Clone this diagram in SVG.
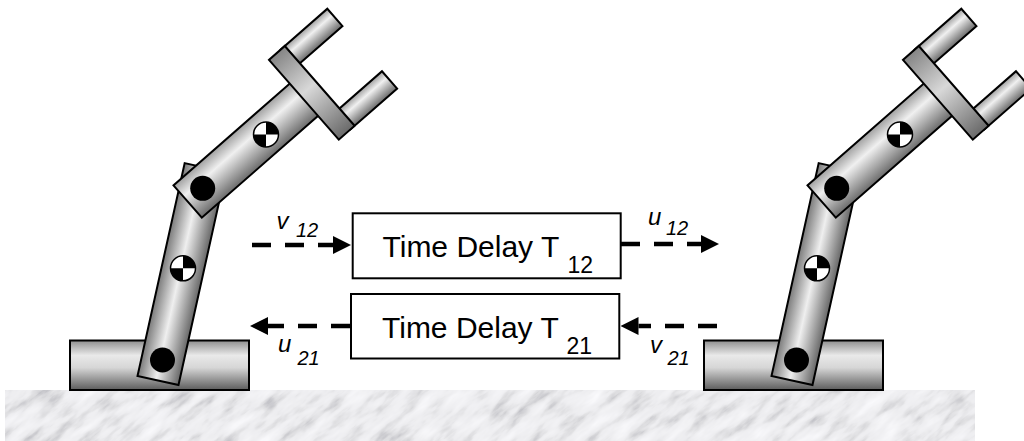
<svg xmlns="http://www.w3.org/2000/svg" xmlns:xlink="http://www.w3.org/1999/xlink" width="1024" height="441" viewBox="0 0 1024 441">
  <style>
    .part { stroke: #000; stroke-width: 2; stroke-linejoin: miter; }
    .box { fill: #fff; stroke: #000; stroke-width: 2; }
    .main { font-family: "Liberation Sans", Arial, sans-serif; font-size: 30px; fill: #000; }
    .msub { font-family: "Liberation Sans", Arial, sans-serif; font-size: 23px; fill: #000; }
    .lbl { font-family: "Liberation Sans", Arial, sans-serif; font-size: 24px; font-style: italic; fill: #000; }
    .lsub { font-family: "Liberation Sans", Arial, sans-serif; font-size: 20px; font-style: italic; fill: #000; }
    .dash { fill: none; stroke: #000; stroke-width: 4.5; stroke-dasharray: 19 14; }
  </style>
  <defs>
    <linearGradient id="gBase" x1="0" y1="0" x2="0" y2="1">
      <stop offset="0" stop-color="#8e8e8e"/>
      <stop offset="0.3" stop-color="#e9e9e9"/>
      <stop offset="0.55" stop-color="#d6d6d6"/>
      <stop offset="1" stop-color="#5c5c5c"/>
    </linearGradient>
    <linearGradient id="gLow" x1="0" y1="0" x2="1" y2="0">
      <stop offset="0" stop-color="#7a7a7a"/>
      <stop offset="0.45" stop-color="#efefef"/>
      <stop offset="1" stop-color="#666"/>
    </linearGradient>
    <linearGradient id="gUp" x1="0" y1="0" x2="0" y2="1">
      <stop offset="0" stop-color="#a0a0a0"/>
      <stop offset="0.35" stop-color="#f0f0f0"/>
      <stop offset="1" stop-color="#6c6c6c"/>
    </linearGradient>
    <linearGradient id="gBar" x1="0" y1="0" x2="0" y2="1">
      <stop offset="0" stop-color="#858585"/>
      <stop offset="0.45" stop-color="#d8d8d8"/>
      <stop offset="1" stop-color="#6a6a6a"/>
    </linearGradient>
    <filter id="marble" filterUnits="objectBoundingBox" x="0" y="0" width="1" height="1" color-interpolation-filters="sRGB">
      <feTurbulence type="fractalNoise" baseFrequency="0.028 0.09" numOctaves="4" seed="11"/>
      <feColorMatrix type="matrix" values="1 0 0 0 0  1 0 0 0 0  1 0 0 0 0  0 0 0 0 1"/>
      <feComponentTransfer>
        <feFuncR type="table" tableValues="0.99 0.97 0.95 0.93 0.87 0.77 0.8"/>
        <feFuncG type="table" tableValues="0.99 0.97 0.95 0.93 0.87 0.77 0.8"/>
        <feFuncB type="table" tableValues="1 0.98 0.96 0.94 0.88 0.79 0.82"/>
        <feFuncA type="identity"/>
      </feComponentTransfer>
    </filter>
    <clipPath id="groundClip">
      <rect x="5" y="390" width="970" height="51"/>
    </clipPath>
    <marker id="ah" markerUnits="userSpaceOnUse" markerWidth="18" markerHeight="18" refX="0" refY="9" orient="auto" viewBox="0 0 18 18">
      <path d="M0,0 L18,9 L0,18 Z" fill="#000"/>
    </marker>
    <g id="cg">
      <circle r="12.5" fill="#fff"/>
      <path d="M0,0 L0,-12.5 A12.5,12.5 0 0 1 12.5,0 Z" fill="#000"/>
      <path d="M0,0 L-12.5,0 A12.5,12.5 0 0 0 0,12.5 Z" fill="#000"/>
      <circle r="12.5" fill="none" stroke="#000" stroke-width="1.5"/>
    </g>
    <circle id="dot" r="12.5" fill="#000"/>
    <g id="robot">
      <rect class="part" x="70" y="340.5" width="179" height="49.5" fill="url(#gBase)"/>
      <g transform="translate(158,380.5) rotate(12.5)">
        <rect class="part" x="-21" y="-218" width="42" height="218" fill="url(#gLow)"/>
      </g>
      <g transform="translate(202.7,188.3) rotate(-41.2)">
        <rect class="part" x="150" y="-53" width="62" height="23" fill="url(#gUp)"/>
        <rect class="part" x="150" y="30" width="62" height="23" fill="url(#gUp)"/>
        <rect class="part" x="-20" y="-21.5" width="156" height="43" fill="url(#gUp)"/>
        <rect class="part" x="134.5" y="-53" width="21" height="106" fill="url(#gBar)"/>
      </g>
      <use xlink:href="#dot" x="162.5" y="360"/>
      <use xlink:href="#cg" x="183" y="268.3"/>
      <use xlink:href="#dot" x="202.7" y="188.3"/>
      <use xlink:href="#cg" x="266" y="134.5"/>
    </g>
  </defs>

  <g id="ground" clip-path="url(#groundClip)">
    <rect x="5" y="390" width="970" height="51" fill="#ececec"/>
    <g transform="translate(490,415) rotate(-38)">
      <rect x="-620" y="-420" width="1240" height="840" fill="#ececec" filter="url(#marble)"/>
    </g>
  </g>

  <g id="robot-1">
    <use xlink:href="#robot"/>
  </g>
  <g id="robot-2" transform="translate(634,0)">
    <use xlink:href="#robot"/>
  </g>

  <g id="delay-12">
    <rect class="box" x="352.7" y="213.3" width="268" height="65"/>
    <text class="main" x="382.5" y="256.7">Time Delay T</text>
    <text class="msub" x="567.5" y="273">12</text>
  </g>
  <g id="delay-21">
    <rect class="box" x="351" y="294" width="268.3" height="64.5"/>
    <text class="main" x="382" y="337.5">Time Delay T</text>
    <text class="msub" x="566.5" y="354">21</text>
  </g>

  <g id="connectors">
    <path class="dash" d="M252,245 H333" marker-end="url(#ah)"/>
    <path class="dash" d="M621,244 H701" marker-end="url(#ah)"/>
    <path class="dash" d="M350,326 H268" marker-end="url(#ah)"/>
    <path class="dash" d="M717,326 H638.5" marker-end="url(#ah)"/>
  </g>

  <g id="labels">
    <text class="lbl" x="276.5" y="228.5">v</text>
    <text class="lsub" x="296" y="236.5">12</text>
    <text class="lbl" x="648" y="225">u</text>
    <text class="lsub" x="666" y="235">12</text>
    <text class="lbl" x="278" y="351.5">u</text>
    <text class="lsub" x="297.5" y="365">21</text>
    <text class="lbl" x="650" y="353">v</text>
    <text class="lsub" x="667.5" y="365">21</text>
  </g>
</svg>
